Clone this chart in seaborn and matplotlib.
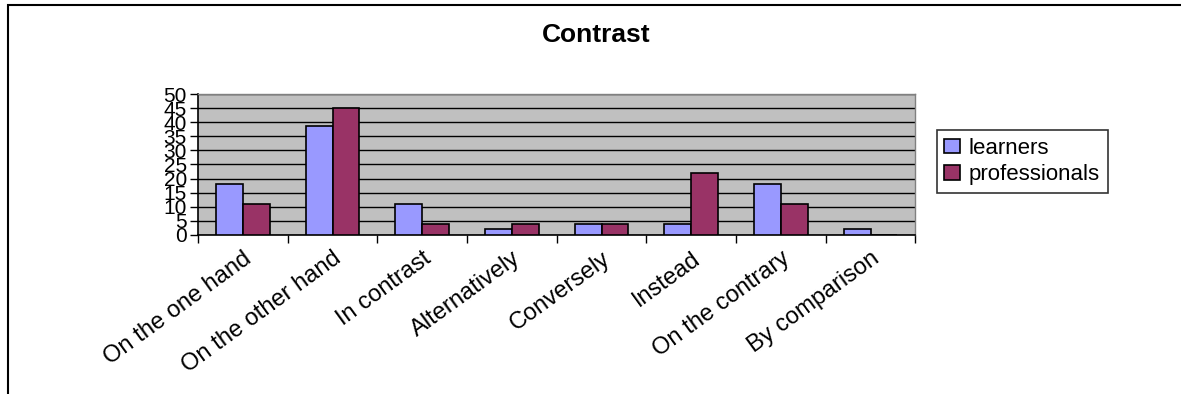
import numpy as np
import pandas as pd
import seaborn as sns
import matplotlib.pyplot as plt
from matplotlib.patches import Rectangle

categories = ["On the one hand", "On the other hand", "In contrast", "Alternatively",
              "Conversely", "Instead", "On the contrary", "By comparison"]
learners = [18, 38.5, 11, 2, 4, 4, 18, 2]
professionals = [11, 45, 4, 4, 4, 22, 11, 0]
series = ["learners", "professionals"]
colors = ["#9999FF", "#993366"]

df = pd.DataFrame({
    "category": categories * 2,
    "value": learners + professionals,
    "group": [series[0]] * len(categories) + [series[1]] * len(categories),
})

sns.set_style("white")
plt.rcParams["font.family"] = ["Liberation Sans", "DejaVu Sans"]
plt.rcParams["text.color"] = "black"
plt.rcParams["xtick.color"] = "black"
plt.rcParams["ytick.color"] = "black"

fig = plt.figure(figsize=(11.81, 3.94), dpi=100)
ax = fig.add_axes([0.1677, 0.4036, 0.6074, 0.3578])

sns.barplot(data=df, x="category", y="value", hue="group", palette=colors,
            saturation=1, width=0.6, gap=0, edgecolor="black", linewidth=1.2,
            ax=ax, zorder=3, legend=True)

ax.set_facecolor("#c0c0c0")
ax.set_ylim(0, 50)
ax.set_xlim(-0.5, len(categories) - 0.5)
ax.set_yticks(np.arange(0, 51, 5))
ax.yaxis.grid(True, color="black", linewidth=1.0, zorder=0)
ax.set_axisbelow(True)
ax.tick_params(axis="y", labelsize=15, length=6, width=1, direction="out", left=True, pad=2)

# ticks between categories, labels at centers
ax.set_xticks(np.arange(len(categories)))
ax.set_xticklabels(categories, rotation=36, ha="right", rotation_mode="anchor", fontsize=17)
ax.set_xticks(np.arange(-0.5, len(categories), 1), minor=True)
ax.tick_params(axis="x", which="major", length=0, pad=9)
ax.tick_params(axis="x", which="minor", length=6, width=1, direction="out", bottom=True)
ax.set_xlabel("")
ax.set_ylabel("")

for side in ["left", "bottom"]:
    ax.spines[side].set_color("black")
    ax.spines[side].set_linewidth(1.2)
for side in ["top", "right"]:
    ax.spines[side].set_color("#808080")
    ax.spines[side].set_linewidth(1.0)

handles, labels = ax.get_legend_handles_labels()
ax.legend_.remove()
leg = fig.legend(handles, labels, loc="center left", bbox_to_anchor=(0.793, 0.590),
                 frameon=True, fancybox=False, edgecolor="black", fontsize=16,
                 handlelength=0.7, handleheight=0.6, handletextpad=0.4,
                 borderpad=0.35, labelspacing=0.25, borderaxespad=0)
leg.get_frame().set_linewidth(1.2)

fig.text(0.505, 0.91, "Contrast", ha="center", va="center", fontsize=19, fontweight="bold")

fig.patches.append(Rectangle((0.007, -0.1), 1.2, 1.087, transform=fig.transFigure,
                             fill=False, edgecolor="black", linewidth=1.5))

fig.savefig("out.png", dpi=100)
